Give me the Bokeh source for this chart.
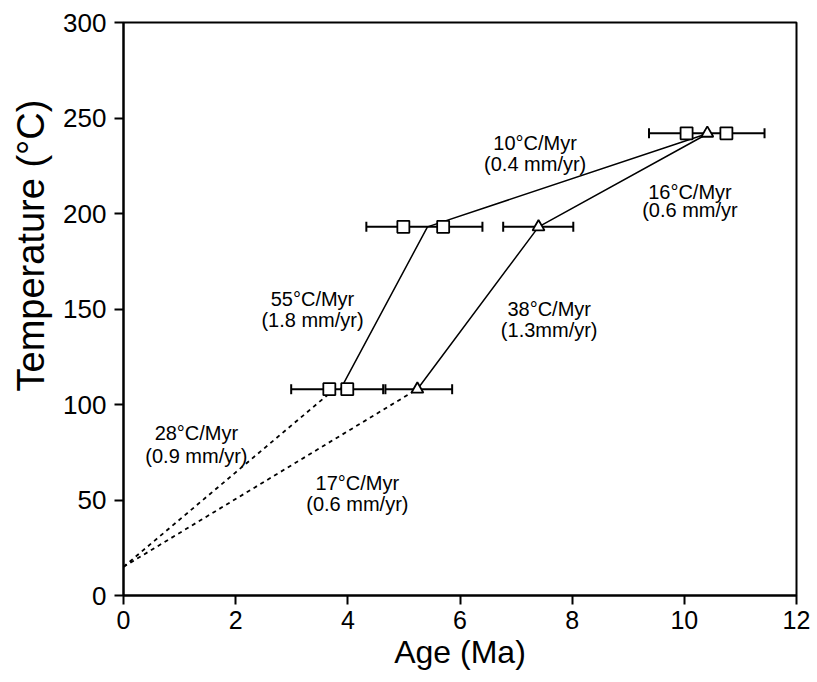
from bokeh.plotting import figure
from bokeh.models import Range1d, FixedTicker, ColumnDataSource, Whisker, TeeHead, Title
from bokeh.core.properties import value
from bokeh.embed import file_html
from bokeh.resources import INLINE

FONT = "Liberation Sans"

# ---- data ----
x_ticks = [0, 2, 4, 6, 8, 10, 12]
y_ticks = [0, 50, 100, 150, 200, 250, 300]

square_age = [3.67, 3.99, 4.99, 5.70, 10.04, 10.75]
square_temp = [108, 108, 193, 193, 242, 242]

triangle_age = [5.24, 7.40, 10.41]
triangle_temp = [108, 193, 242]

err_temp = [108, 108, 193, 193, 242]
err_lo = [2.99, 4.67, 4.33, 6.77, 9.37]
err_hi = [4.63, 5.86, 6.40, 8.02, 11.43]

path_a_age = [3.87, 5.42, 10.43]
path_a_temp = [108, 193, 242]
path_b_age = [5.24, 7.40, 10.43]
path_b_temp = [108, 193, 242]

dash_a_age = [0.0, 3.72]
dash_a_temp = [15, 107]
dash_b_age = [0.0, 5.18]
dash_b_temp = [15, 107]

label_top = ["10°C/Myr", "16°C/Myr", "55°C/Myr", "38°C/Myr", "28°C/Myr", "17°C/Myr"]
label_bot = ["(0.4 mm/yr)", "(0.6 mm/yr", "(1.8 mm/yr)", "(1.3mm/yr)", "(0.9 mm/yr)", "(0.6 mm/yr)"]
label_x = [7.34, 10.10, 3.37, 7.59, 1.30, 4.17]
label_y_top = [237, 211, 155, 150, 85, 59]
label_y_bot = [226, 202, 144, 139, 73, 48]

x_title = "Age (Ma)"
y_title = "Temperature (°C)"

# ---- figure ----
p = figure(width=817, height=682, output_backend="svg", toolbar_location=None,
           x_range=Range1d(0, 12), y_range=Range1d(0, 300),
           min_border_left=123, min_border_right=21, min_border_top=22, min_border_bottom=87)
p.grid.visible = False
p.background_fill_color = "white"
p.border_fill_color = "white"
p.outline_line_color = "black"
p.outline_line_width = 2

for ax in (p.xaxis[0], p.yaxis[0]):
    ax.axis_line_width = 2
    ax.axis_line_color = "black"
    ax.major_tick_line_width = 2
    ax.major_tick_in = 0
    ax.major_tick_out = 9
    ax.minor_tick_line_color = None
    ax.major_label_text_font = FONT
    ax.axis_label_text_font = FONT
    ax.axis_label_text_font_style = "normal"
    ax.major_label_text_color = "black"
    ax.axis_label_text_color = "black"

p.xaxis.ticker = FixedTicker(ticks=x_ticks)
p.yaxis.ticker = FixedTicker(ticks=y_ticks)
p.xaxis.axis_label = x_title
p.xaxis.major_label_text_font_size = "25px"
p.yaxis.major_label_text_font_size = "26px"
p.xaxis.axis_label_text_font_size = "32px"
p.xaxis.major_label_standoff = 6
p.yaxis.major_label_standoff = 8
p.xaxis.axis_label_standoff = 2

# y axis title as a side title, shifted upward as in the reference
p.add_layout(Title(text=y_title, align="left", offset=204, standoff=15,
                   vertical_align="middle",
                   text_font=FONT, text_font_size="38px", text_font_style="normal",
                   text_color="black"), "left")

# lines
p.line(path_a_age, path_a_temp, line_color="black", line_width=1.5)
p.line(path_b_age, path_b_temp, line_color="black", line_width=1.5)
p.line(dash_a_age, dash_a_temp, line_color="black", line_width=1.8, line_dash="4 4")
p.line(dash_b_age, dash_b_temp, line_color="black", line_width=1.8, line_dash="4 4")

# error bars
esrc = ColumnDataSource(dict(y=err_temp, lo=err_lo, hi=err_hi))
w = Whisker(base="y", lower="lo", upper="hi", dimension="width", source=esrc,
            line_color="black", line_width=2,
            upper_head=TeeHead(size=10, line_width=2, line_color="black"),
            lower_head=TeeHead(size=10, line_width=2, line_color="black"))
p.add_layout(w)

# markers
p.scatter(square_age, square_temp, marker="square", size=12, fill_color="white",
          line_color="black", line_width=1.8)
p.scatter(triangle_age, triangle_temp, marker="triangle", size=12, fill_color="white",
          line_color="black", line_width=1.8)

# labels
p.text(label_x, label_y_top, text=label_top, text_align="center", text_baseline="middle",
       text_font=value(FONT), text_font_size="20px", text_color="black")
p.text(label_x, label_y_bot, text=label_bot, text_align="center", text_baseline="middle",
       text_font=value(FONT), text_font_size="20px", text_color="black")

open("out.html", "w").write(file_html(p, INLINE))
